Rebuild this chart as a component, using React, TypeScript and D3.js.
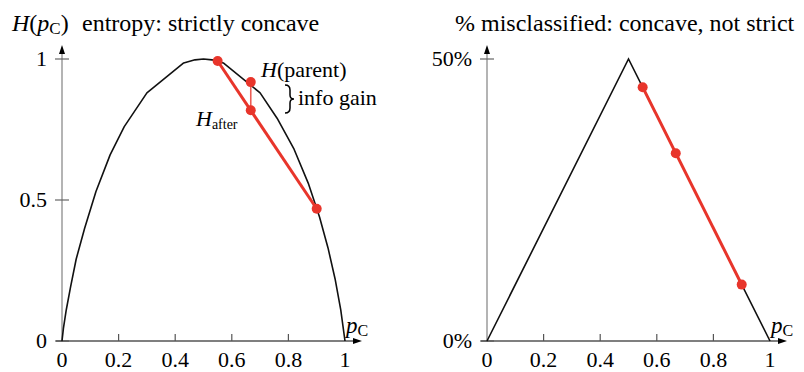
import React from 'react';
import * as d3 from 'd3';

// entropy curve
const entP = [0, 0.005, 0.015, 0.03, 0.05, 0.08, 0.12, 0.17, 0.22, 0.3, 0.43, 0.47, 0.5, 0.53, 0.57, 0.7, 0.76, 0.82, 0.87, 0.91, 0.94, 0.965, 0.985, 1];
const entH = [0, 0.045, 0.11, 0.19, 0.29, 0.4, 0.53, 0.66, 0.76, 0.88, 0.986, 0.997, 1, 0.997, 0.986, 0.88, 0.79, 0.68, 0.56, 0.44, 0.33, 0.22, 0.11, 0];

// misclassification curve, right panel
const misP = [0, 0.5, 1];
const misV = [0, 0.5, 0];

// the split: children at 0.55 and 0.9, parent at 2/3
const childP = [0.55, 0.9];
const entChild = [0.993, 0.469];
const parentP = 0.667;
const entParent = 0.918;
const entAfter = 0.818;
const misChild = [0.45, 0.1];
const misAfter = 0.333;

const xTicks = [0, 0.2, 0.4, 0.6, 0.8, 1];
const xTickLabels = ['0', '0.2', '0.4', '0.6', '0.8', '1'];
const entTicks = [0, 0.5, 1];
const entTickLabels = ['0', '0.5', '1'];
const misTicks = [0, 0.5];
const misTickLabels = ['0%', '50%'];

const RED = '#e8352b';
const FAM = 'Liberation Serif';

const Axes = ({ x, y, yTicks, yLabels }) => {
  const x0 = x(0);
  const y0 = y.range()[0];
  const xEnd = x(1) + 17;
  const yTop = y.range()[1] - 14;
  return (
    <g>
      {/* y axis */}
      <line x1={x0} x2={x0} y1={y0 + 1} y2={yTop + 6} stroke="#8c8c8c" strokeWidth={1.3} />
      <path d={`M${x0},${yTop} L${x0 - 3},${yTop + 9} L${x0 + 3},${yTop + 9} Z`} fill="#000" />
      {yTicks.map((t, i) => (
        <g key={i}>
          <line x1={x0 - 7} x2={x0 + 7} y1={y(t)} y2={y(t)} stroke="#666" strokeWidth={1.2} />
          <text x={x0 - 15} y={y(t) + 7} textAnchor="end" fontSize={22} data-fs={22} fontFamily={FAM}>{yLabels[i]}</text>
        </g>
      ))}
      {/* x axis */}
      <line x1={x0 - 6} x2={xEnd - 6} y1={y0} y2={y0} stroke="#555" strokeWidth={1.3} />
      <path d={`M${xEnd},${y0} L${xEnd - 9},${y0 - 3} L${xEnd - 9},${y0 + 3} Z`} fill="#000" />
      {xTicks.map((t, i) => (
        <g key={i}>
          {i > 0 && i < xTicks.length - 1 && (
            <line x1={x(t)} x2={x(t)} y1={y0} y2={y0 - 7} stroke="#555" strokeWidth={1.2} />
          )}
          <text x={x(t)} y={367} textAnchor="middle" fontSize={22} data-fs={22} fontFamily={FAM}>{xTickLabels[i]}</text>
        </g>
      ))}
      <text x={x(1) + 1} y={y0 - 8} fontSize={23} data-fs={23} fontFamily={FAM}>
        <tspan fontStyle="italic" data-it="1" data-fs={23}>p</tspan>
        <tspan fontSize={16} data-fs={16} dy={3}>C</tspan>
      </text>
    </g>
  );
};

export default function App() {
  const svgRef = React.useRef(null);

  const xL = d3.scaleLinear().domain([0, 1]).range([62, 345]);
  const yL = d3.scaleLinear().domain([0, 1]).range([341, 59]);
  const xR = d3.scaleLinear().domain([0, 1]).range([487, 770]);
  const yR = d3.scaleLinear().domain([0, 0.5]).range([341, 59]);

  const entLine = d3.line<number>().x((d, i) => xL(entP[i])).y((d) => yL(d));
  const misLine = d3.line<number>().x((d, i) => xR(misP[i])).y((d) => yR(d));

  // force the serif face and sizes on every text and tspan
  React.useEffect(() => {
    d3.select(svgRef.current)
      .selectAll('text, tspan')
      .each(function () {
        const el = d3.select(this);
        el.style('font-family', "'Liberation Serif', 'Times New Roman', serif", 'important');
        const fs = el.attr('data-fs');
        if (fs) el.style('font-size', fs + 'px', 'important');
        el.style('font-style', el.attr('data-it') ? 'italic' : 'normal', 'important');
      });
  }, []);

  return (
    <svg ref={svgRef} width={804} height={372} style={{ position: 'absolute', left: 0, top: 0 }}>
      <rect width={804} height={372} fill="#fff" />

      {/* left panel */}
      <text x={12} y={31} fontSize={24} data-fs={24} fontFamily={FAM}>
        <tspan fontStyle="italic" data-it="1" data-fs={24}>H</tspan>
        <tspan data-fs={24}>(</tspan>
        <tspan fontStyle="italic" data-it="1" data-fs={24}>p</tspan>
        <tspan fontSize={17} data-fs={17} dy={3}>C</tspan>
        <tspan dy={-3} data-fs={24}>)</tspan>
        <tspan x={82} data-fs={24}>entropy: strictly concave</tspan>
      </text>
      <Axes x={xL} y={yL} yTicks={entTicks} yLabels={entTickLabels} />
      <path d={entLine(entH) || ''} fill="none" stroke="#111" strokeWidth={1.6} strokeLinejoin="round" />
      <line x1={xL(parentP)} x2={xL(parentP)} y1={yL(entParent)} y2={yL(entAfter)} stroke={RED} strokeOpacity={0.8} strokeWidth={1.6} />
      <line x1={xL(childP[0])} x2={xL(childP[1])} y1={yL(entChild[0])} y2={yL(entChild[1])} stroke={RED} strokeWidth={3} />
      {childP.map((p, i) => (
        <circle key={i} cx={xL(p)} cy={yL(entChild[i])} r={5} fill={RED} />
      ))}
      <circle cx={xL(parentP)} cy={yL(entParent)} r={5} fill={RED} />
      <circle cx={xL(parentP)} cy={yL(entAfter)} r={5} fill={RED} />
      <text x={261} y={77} fontSize={22} data-fs={22} fontFamily={FAM}>
        <tspan fontStyle="italic" data-it="1" data-fs={22}>H</tspan>
        <tspan data-fs={22}>(parent)</tspan>
      </text>
      <path d="M285,85 Q290,85 290,90 L290,95 Q290,99 294,99 Q290,99 290,103 L290,108 Q290,113 285,113" fill="none" stroke="#000" strokeWidth={1.5} />
      <text x={298} y={105} fontSize={22} data-fs={22} fontFamily={FAM}>info gain</text>
      <text x={196} y={126} fontSize={22} data-fs={22} fontFamily={FAM}>
        <tspan fontStyle="italic" data-it="1" data-fs={22}>H</tspan>
        <tspan fontSize={14} data-fs={14} dy={3}>after</tspan>
      </text>

      {/* right panel */}
      <text x={455} y={31} fontSize={24} data-fs={24} fontFamily={FAM}>% misclassified: concave, not strict</text>
      <Axes x={xR} y={yR} yTicks={misTicks} yLabels={misTickLabels} />
      <path d={misLine(misV) || ''} fill="none" stroke="#111" strokeWidth={1.6} />
      <line x1={xR(childP[0])} x2={xR(childP[1])} y1={yR(misChild[0])} y2={yR(misChild[1])} stroke={RED} strokeWidth={3} />
      {childP.map((p, i) => (
        <circle key={i} cx={xR(p)} cy={yR(misChild[i])} r={5} fill={RED} />
      ))}
      <circle cx={xR(parentP)} cy={yR(misAfter)} r={5} fill={RED} />
    </svg>
  );
}
